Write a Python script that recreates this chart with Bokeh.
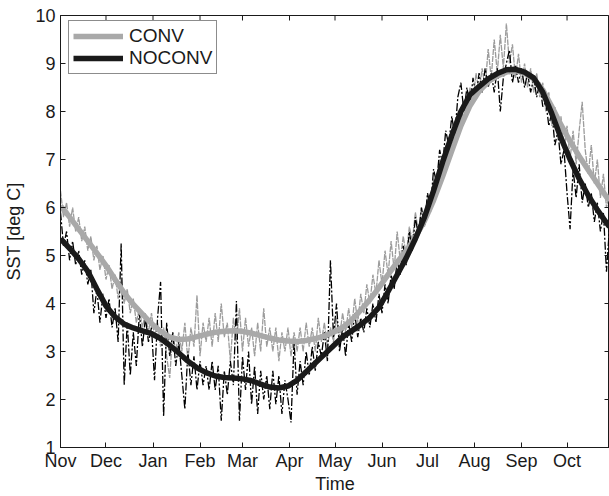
import math
from bokeh.plotting import figure
from bokeh.models import FixedTicker, Range1d, Legend, LegendItem
from bokeh.embed import file_html
from bokeh.resources import INLINE

# ---- data -------------------------------------------------------------
month_days = [0, 30, 61, 92, 120, 151, 181, 212, 242, 273, 304, 334]
month_labels = ["Nov", "Dec", "Jan", "Feb", "Mar", "Apr", "May", "Jun",
                "Jul", "Aug", "Sep", "Oct"]
y_ticks = [1, 2, 3, 4, 5, 6, 7, 8, 9, 10]
x_start, x_end = 0, 362
y_start, y_end = 1, 10

smooth_days = list(range(0, 361, 6)) + [362]
conv_smooth = [6.03, 5.80, 5.55, 5.30, 5.05, 4.79, 4.50, 4.22, 3.98, 3.78,
               3.58, 3.42, 3.30, 3.25, 3.26, 3.31, 3.36, 3.40, 3.42, 3.43,
               3.42, 3.38, 3.33, 3.28, 3.24, 3.22, 3.21, 3.23, 3.27, 3.32,
               3.40, 3.50, 3.66, 3.86, 4.08, 4.33, 4.60, 4.86, 5.10, 5.38,
               5.72, 6.15, 6.65, 7.18, 7.70, 8.12, 8.42, 8.62, 8.74, 8.82,
               8.85, 8.80, 8.68, 8.45, 8.10, 7.72, 7.38, 7.07, 6.78, 6.50,
               6.22, 6.15]
noconv_smooth = [5.35, 5.15, 4.93, 4.67, 4.30, 3.95, 3.72, 3.57, 3.49, 3.43,
                 3.37, 3.27, 3.13, 2.97, 2.80, 2.66, 2.56, 2.49, 2.46, 2.45,
                 2.43, 2.39, 2.32, 2.26, 2.24, 2.28, 2.40, 2.58, 2.76, 2.94,
                 3.12, 3.30, 3.43, 3.56, 3.71, 3.92, 4.25, 4.60, 4.95, 5.35,
                 5.80, 6.35, 6.95, 7.50, 8.00, 8.35, 8.52, 8.68, 8.79, 8.87,
                 8.88, 8.82, 8.70, 8.40, 7.95, 7.45, 7.00, 6.60, 6.25, 5.95,
                 5.68, 5.60]

raw_days = list(range(0, 363, 2))
conv_raw = [6.35, 5.8, 6.1, 5.6, 6.0, 5.5, 5.8, 5.3, 5.6, 5.1,
            5.4, 4.9, 5.2, 4.7, 5.0, 4.5, 4.8, 4.3, 4.6, 4.1,
            4.5, 4.0, 4.3, 3.8, 4.1, 3.6, 3.9, 3.5, 3.8, 3.4,
            3.8, 3.3, 3.6, 3.1, 3.5, 2.9, 2.45, 3.4, 3.0, 3.4,
            3.0, 3.6, 2.8, 3.5, 3.1, 4.17, 2.9, 3.6, 3.2, 3.7,
            3.1, 3.8, 3.2, 4.0, 3.3, 3.6, 2.8, 3.7, 3.2, 3.9,
            3.0, 3.7, 3.1, 3.5, 2.9, 3.6, 3.0, 3.9, 3.1, 3.5,
            3.0, 3.5, 2.8, 3.4, 3.0, 3.5, 2.9, 3.4, 3.0, 3.5,
            3.0, 3.6, 3.1, 3.5, 3.0, 3.7, 3.2, 3.6, 3.1, 3.5,
            3.2, 3.7, 3.3, 3.8, 3.4, 3.9, 3.5, 4.1, 3.6, 4.2,
            3.8, 4.4, 4.0, 4.6, 4.2, 4.9, 4.4, 5.1, 4.6, 5.3,
            4.7, 5.5, 4.9, 5.4, 5.0, 5.6, 5.3, 5.9, 5.5, 6.0,
            5.6, 6.2, 5.9, 6.6, 6.4, 7.0, 6.7, 7.3, 7.0, 7.6,
            7.3, 7.9, 7.6, 8.2, 7.9, 8.5, 8.2, 8.8, 8.4, 8.9,
            8.5, 9.3, 8.7, 9.5, 8.8, 9.6, 8.9, 9.83, 9.0, 9.4,
            8.7, 9.2, 8.6, 9.0, 8.5, 8.9, 8.4, 8.8, 8.3, 8.6,
            8.0, 8.4, 7.7, 8.1, 7.4, 7.9, 7.2, 7.7, 7.0, 7.6,
            6.9, 7.6, 8.2, 7.2, 6.7, 7.3, 6.5, 7.0, 6.2, 6.7,
            6.0, 6.3]
noconv_raw = [5.9, 5.2, 5.5, 4.9, 5.3, 4.8, 5.1, 4.6, 4.9, 4.4,
              4.7, 3.8, 4.3, 3.6, 4.2, 3.7, 4.1, 3.5, 3.9, 3.2,
              5.25, 2.3, 3.6, 2.5, 3.4, 2.7, 3.8, 3.1, 3.7, 3.2,
              3.5, 2.4, 3.7, 4.45, 1.65, 3.6, 2.9, 3.4, 2.7, 3.2,
              2.5, 1.8, 3.0, 2.3, 2.9, 2.2, 2.8, 2.3, 2.7, 2.2,
              2.8, 2.2, 2.7, 1.56, 2.6, 2.1, 2.8, 2.3, 4.05, 1.56,
              2.9, 2.2, 3.0, 1.9, 2.7, 1.7, 2.6, 2.0, 2.5, 1.8,
              2.6, 1.9, 2.5, 1.7, 2.4, 2.0, 1.52, 3.2, 2.1, 2.8,
              2.3, 3.0, 2.5, 3.1, 2.6, 3.2, 2.9, 3.4, 2.8, 4.9,
              3.3, 4.0, 3.0, 3.5, 2.9, 3.6, 3.2, 3.8, 3.3, 3.7,
              3.4, 3.9, 3.5, 4.0, 3.6, 4.2, 3.8, 4.4, 4.0, 4.6,
              4.3, 4.9, 4.6, 5.2, 4.8, 5.5, 5.1, 5.8, 5.4, 6.0,
              5.6, 6.3, 6.0, 6.8, 6.5, 7.2, 6.9, 7.6, 7.3, 7.9,
              7.5, 8.3, 8.6, 8.0, 8.5, 8.1, 8.7, 8.3, 8.8, 8.4,
              8.9, 8.5, 8.8, 8.4, 8.9, 8.0, 8.7, 9.0, 9.28, 8.6,
              8.95, 8.6, 8.9, 8.5, 8.8, 8.4, 8.7, 8.3, 8.6, 8.1,
              8.2, 7.7, 8.0, 7.3, 7.6, 6.9, 7.2, 6.3, 5.55, 6.8,
              6.2, 6.9, 6.1, 6.5, 6.0, 6.3, 5.7, 6.1, 5.5, 5.9,
              4.66, 5.6]

# ---- styling ----------------------------------------------------------
FONT = "Liberation Sans"
INK = "#1a1a1a"
GRAY_SMOOTH = "#a9a9a9"
GRAY_RAW = "#9c9c9c"

p = figure(width=609, height=496, output_backend="svg", toolbar_location=None,
           x_range=Range1d(x_start, x_end), y_range=Range1d(y_start, y_end),
           min_border_left=60, min_border_right=0, min_border_top=15,
           min_border_bottom=46)
p.outline_line_color = INK
p.outline_line_width = 1
p.grid.visible = False
p.background_fill_color = "white"
p.border_fill_color = "white"

p.line(raw_days, conv_raw, line_color=GRAY_RAW, line_width=1.3, line_dash="6 1")
p.line(raw_days, noconv_raw, line_color="#000000", line_width=1.3, line_dash="8 2 2 2")
r_conv = p.line(smooth_days, conv_smooth, line_color=GRAY_SMOOTH, line_width=5.5)
r_noconv = p.line(smooth_days, noconv_smooth, line_color=INK, line_width=5.5)

# inward tick marks on the top and right frame edges (box-style axes)
p.scatter(month_days, [y_end] * len(month_days), marker="dash", size=10,
          angle=math.pi / 2, line_color=INK, line_width=1)
p.scatter([x_end] * len(y_ticks), y_ticks, marker="dash", size=10,
          line_color=INK, line_width=1)


def style_axis(ax):
    ax.major_tick_in = 5
    ax.major_tick_out = 0
    ax.minor_tick_in = 0
    ax.minor_tick_out = 0
    ax.axis_line_color = INK
    ax.major_tick_line_color = INK
    ax.major_label_text_font = FONT
    ax.major_label_text_font_size = "18px"
    ax.major_label_text_color = INK
    ax.axis_label_text_font = FONT
    ax.axis_label_text_font_size = "18px"
    ax.axis_label_text_font_style = "normal"
    ax.axis_label_text_color = INK


xb = p.xaxis[0]
xb.ticker = FixedTicker(ticks=month_days)
xb.major_label_overrides = {d: m for d, m in zip(month_days, month_labels)}
style_axis(xb)
xb.major_label_standoff = 3
xb.axis_label = "Time"
xb.axis_label_standoff = 0

yl = p.yaxis[0]
yl.ticker = FixedTicker(ticks=y_ticks)
style_axis(yl)
yl.major_label_standoff = 5
yl.axis_label = "SST [deg C]"
yl.axis_label_standoff = 8

legend = Legend(items=[LegendItem(label="CONV", renderers=[r_conv]),
                       LegendItem(label="NOCONV", renderers=[r_noconv])],
                location=(8, 373))
legend.label_text_font = FONT
legend.label_text_font_size = "19px"
legend.label_text_color = INK
legend.label_height = 18
legend.glyph_height = 18
legend.glyph_width = 50
legend.label_standoff = 6
legend.spacing = 0
legend.padding = 4
legend.margin = 0
legend.border_line_color = INK
legend.border_line_width = 1
legend.background_fill_color = "white"
legend.background_fill_alpha = 1
p.add_layout(legend)

open("out.html", "w").write(file_html(p, INLINE))
